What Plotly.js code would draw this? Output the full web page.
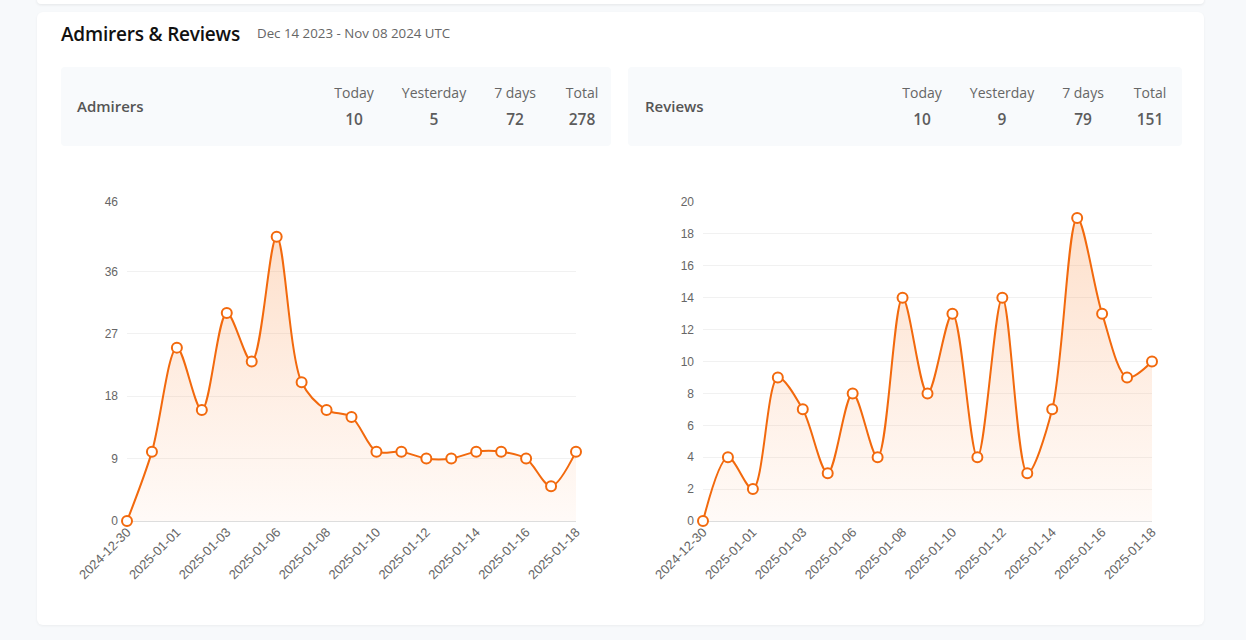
<!DOCTYPE html>
<html>
<head>
<meta charset="utf-8">
<script src="https://cdn.plot.ly/plotly-3.0.1.min.js"></script>
<style>
  html, body { margin:0; padding:0; width:1246px; height:640px; overflow:hidden; background:#f7f9fb; font-family:"Open Sans","Noto Sans",sans-serif; }
  .topcard { position:absolute; left:37px; top:-10px; width:1167px; height:14px; background:#fff; box-shadow:0 1px 3px rgba(0,0,0,0.08); border-radius:4px; }
  .card { position:absolute; left:37px; top:12px; width:1167px; height:613px; background:#fff; border-radius:6px; box-shadow:0 1px 3px rgba(0,0,0,0.05); }
  .title { position:absolute; left:61px; top:21px; font-size:19px; font-weight:600; color:#111; letter-spacing:-0.2px; }
  .sub { position:absolute; left:257px; top:24px; font-size:13.3px; color:#666; }
  .box { position:absolute; top:67px; height:79px; background:#f8fafc; border-radius:4px; }
  .lbl { position:absolute; top:96px; font-size:15px; font-weight:600; color:#555; }
  .sh { position:absolute; top:83px; font-size:14px; color:#666; transform:translateX(-50%); white-space:nowrap; }
  .sv { position:absolute; top:108px; font-size:15.5px; font-weight:600; color:#5c5c5c; transform:translateX(-50%); }
  .chart { position:absolute; top:160px; height:440px; }
</style>
</head>
<body>
<div class="topcard"></div>
<div class="card"></div>
<div class="title">Admirers &amp; Reviews</div>
<div class="sub">Dec 14 2023 - Nov 08 2024 UTC</div>
<div class="box" style="left:61px;width:550px;"></div>
<div class="box" style="left:628px;width:554px;"></div>
<div id="stats"></div>
<div id="c1" class="chart" style="left:61px;width:550px;"></div>
<div id="c2" class="chart" style="left:628px;width:554px;"></div>
<script>
const dates = ["2024-12-30","2024-12-31","2025-01-01","2025-01-02","2025-01-03","2025-01-04","2025-01-06","2025-01-07","2025-01-08","2025-01-09","2025-01-10","2025-01-11","2025-01-12","2025-01-13","2025-01-14","2025-01-15","2025-01-16","2025-01-17","2025-01-18"];
const tickLabels = ["2024-12-30","2025-01-01","2025-01-03","2025-01-06","2025-01-08","2025-01-10","2025-01-12","2025-01-14","2025-01-16","2025-01-18"];
const admirers = [0,10,25,16,30,23,41,20,16,15,10,10,9,9,10,10,9,5,10];
const reviews = [0,4,2,9,7,3,8,4,14,8,13,4,14,3,7,19,13,9,10];
const admirerTicks = [0,9,18,27,36,46];
const reviewTicks = [0,2,4,6,8,10,12,14,16,18,20];
const statHeads = ["Today","Yesterday","7 days","Total"];
const admirerStats = [10,5,72,278];
const reviewStats = [10,9,79,151];

(function(){
  const s = document.getElementById('stats');
  function add(cls, left, text){ const d=document.createElement('div'); d.className=cls; d.style.left=left+'px'; d.textContent=text; s.appendChild(d); }
  add('lbl', 77, 'Admirers');
  add('lbl', 645, 'Reviews');
  const lx = [354,434,515,582], rx = [922,1002,1083,1150];
  statHeads.forEach((h,i)=>{ add('sh', lx[i], h); add('sv', lx[i], admirerStats[i]); add('sh', rx[i], h); add('sv', rx[i], reviewStats[i]); });
})();

const ORANGE = '#f2690d';
function draw(id, y, ticks, ml, mr){
  const trace = {
    x: dates, y: y, type:'scatter', mode:'lines+markers',
    line:{color:ORANGE, width:2, shape:'spline', smoothing:0.9},
    marker:{color:'#ffffff', size:10, line:{color:ORANGE, width:2}},
    fill:'tozeroy',
    fillgradient:{type:'vertical', colorscale:[[0,'rgba(253,160,100,0.05)'],[1,'rgba(250,150,80,0.3)']]},
    cliponaxis:false, hoverinfo:'x+y'
  };
  const yf = {family:'Liberation Sans, Arial, sans-serif', size:12, color:'#666'};
  const xf = {family:'Liberation Sans, Arial, sans-serif', size:13, color:'#666'};
  const layout = {
    margin:{l:ml, r:mr, t:42, b:79},
    paper_bgcolor:'rgba(0,0,0,0)', plot_bgcolor:'rgba(0,0,0,0)',
    showlegend:false,
    xaxis:{type:'category', categoryarray:dates, range:[0,dates.length-1], tickvals:tickLabels, ticktext:tickLabels,
      tickangle:-45, tickfont:xf, showgrid:false, zeroline:false, showline:false, ticks:'', fixedrange:true},
    yaxis:{range:[0, ticks[ticks.length-1]], tickvals:ticks, ticktext:ticks.map(String), tickfont:yf,
      showgrid:true, gridcolor:'#f1f1f1', gridwidth:1, zeroline:true, zerolinecolor:'#dddddd', zerolinewidth:1,
      showline:false, ticks:'', ticklabelstandoff:8, fixedrange:true}
  };
  Plotly.newPlot(id, [trace], layout, {displayModeBar:false, staticPlot:true});
}
draw('c1', admirers, admirerTicks, 66, 35);
draw('c2', reviews, reviewTicks, 75, 30);
</script>
</body>
</html>
